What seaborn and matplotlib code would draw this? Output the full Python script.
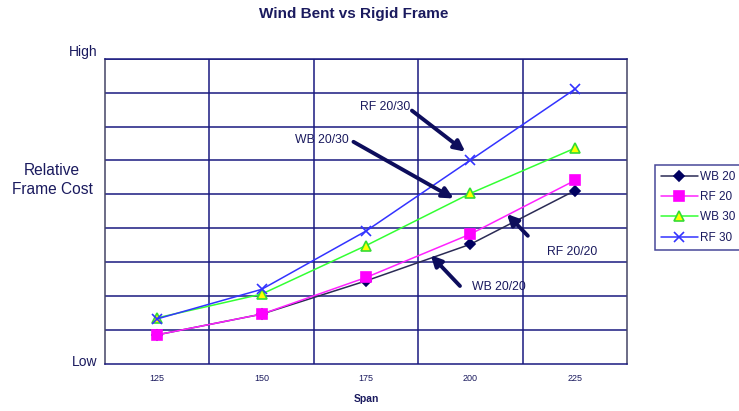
import matplotlib
matplotlib.use("Agg")
import matplotlib.pyplot as plt
import seaborn as sns
import pandas as pd

sns.set_theme(style="white")
plt.rcParams["font.family"] = ["Liberation Sans", "DejaVu Sans"]

# Relative frame cost by span (0 = Low, 9 = High)
spans = ["125", "150", "175", "200", "225"]
wb20 = [0.86, 1.47, 2.45, 3.53, 5.11]
rf20 = [0.86, 1.47, 2.55, 3.83, 5.41]
wb30 = [1.36, 2.06, 3.49, 5.03, 6.36]
rf30 = [1.33, 2.20, 3.92, 6.01, 8.10]
series_names = ["WB 20", "RF 20", "WB 30", "RF 30"]

NAVY = "#1a1a80"
TEXT = "#1a1a5e"

rows = []
for name, vals in zip(series_names, [wb20, rf20, wb30, rf30]):
    for i, v in enumerate(vals):
        rows.append({"pos": i, "cost": v, "series": name})
df = pd.DataFrame(rows)

fig = plt.figure(figsize=(7.39, 4.11), dpi=100)
ax = fig.add_axes([105 / 739, 1 - 364 / 411, 522 / 739, 305.3 / 411])

styles = {
    "WB 20": dict(color="#2b2b55", marker="D", ms=5.5, mfc="#000060", mec="#000060"),
    "RF 20": dict(color="#ff22ff", marker="s", ms=6.5, mfc="#ff00ff", mec="#ff00ff"),
    "WB 30": dict(color="#33ff33", marker="^", ms=7, mfc="#ffff00", mec="#33dd33"),
    "RF 30": dict(color="#3333ff", marker="x", ms=7, mfc="#3333ff", mec="#3333ff"),
}

for name in series_names:
    st = styles[name]
    sns.lineplot(data=df[df["series"] == name], x="pos", y="cost", ax=ax,
                 color=st["color"], lw=1.1, marker=st["marker"],
                 markersize=st["ms"], markerfacecolor=st["mfc"],
                 markeredgecolor=st["mec"], markeredgewidth=1.2,
                 label=name)

ax.set_xlim(-0.5, 4.5)
ax.set_ylim(0, 9)

# category gridlines sit between the spans
for xb in [0.5, 1.5, 2.5, 3.5]:
    ax.axvline(xb, color=NAVY, lw=1.1, zorder=0)
for yv in range(1, 10):
    ax.axhline(yv, color=NAVY, lw=1.1, zorder=0)

for side in ["left", "bottom", "right", "top"]:
    ax.spines[side].set_color(NAVY)
    ax.spines[side].set_linewidth(1.1)
ax.spines["left"].set_color("#444466")
ax.spines["right"].set_color("#444466")

ax.set_xticks(range(len(spans)))
ax.set_xticklabels(spans, fontsize=6.5, color=TEXT)
ax.set_xticks([-0.5, 0.5, 1.5, 2.5, 3.5, 4.5], minor=True)
ax.tick_params(axis="x", which="major", length=0, pad=7)
ax.tick_params(axis="x", which="minor", length=4, color=NAVY, width=1.1, direction="out")
ax.set_yticks([])
ax.set_xlabel("Span", fontsize=7.5, fontweight="bold", color=TEXT, labelpad=8)
ax.set_ylabel("")

fig.text(97 / 739, 1 - 52 / 411, "High", ha="right", va="center", fontsize=10, color=TEXT)
fig.text(97 / 739, 1 - 362 / 411, "Low", ha="right", va="center", fontsize=10, color=TEXT)
fig.text(52 / 739, 1 - 180 / 411, "Relative\nFrame Cost", ha="center", va="center",
         fontsize=11.2, color=TEXT, linespacing=1.3)
fig.text(354 / 739, 1 - 14 / 411, "Wind Bent vs Rigid Frame", ha="center", va="center",
         fontsize=11, fontweight="bold", color=TEXT)

# callout labels with arrows
arrow_kw = dict(arrowstyle="-|>", color="#0d0d5c", lw=2.8, mutation_scale=16,
                shrinkA=0, shrinkB=0)
callouts = [
    ("RF 20/30", (2.18, 7.58), (2.44, 7.47), (2.95, 6.26)),
    ("WB 20/30", (1.58, 6.60), (1.88, 6.55), (2.84, 4.88)),
    ("RF 20/20", (3.97, 3.31), (3.55, 3.78), (3.35, 4.42)),
    ("WB 20/20", (3.27, 2.26), (2.90, 2.30), (2.62, 3.21)),
]
for label, tpos, start, end in callouts:
    ax.text(tpos[0], tpos[1], label, ha="center", va="center", fontsize=8.8, color=TEXT)
    ax.annotate("", xy=end, xytext=start, arrowprops=arrow_kw)

leg = ax.legend(loc="upper left", bbox_to_anchor=(654.7 / 739, 1 - 165 / 411),
                bbox_transform=fig.transFigure, fontsize=8.5, frameon=True,
                fancybox=False, edgecolor=NAVY, handlelength=3.2,
                handletextpad=0.15, labelspacing=0.7, borderpad=0.5,
                borderaxespad=0)
leg.get_frame().set_linewidth(1.1)
for t in leg.get_texts():
    t.set_color(TEXT)

fig.savefig("out.png", dpi=100)
